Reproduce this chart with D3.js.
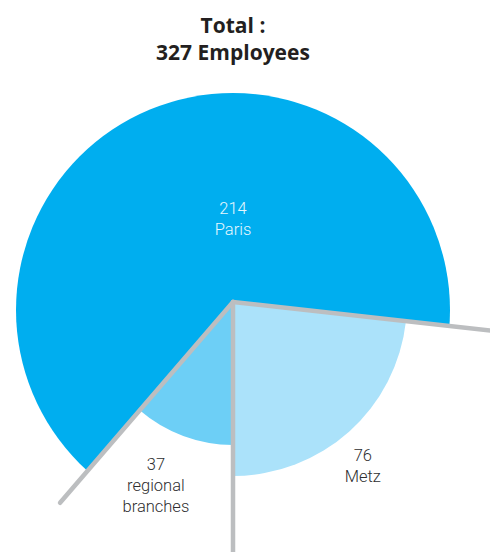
<!DOCTYPE html>
<html>
<head>
<meta charset="utf-8">
<script src="https://cdn.jsdelivr.net/npm/d3@7"></script>
<style>
  body { margin: 0; background: #fff; }
  svg { display: block; }
  .title { font-family: 'Open Sans', Roboto, sans-serif; font-weight: 700; font-size: 21px; fill: #231f20; }
  .label { font-family: Roboto, 'Open Sans', sans-serif; font-weight: 300; font-size: 16.5px; }
</style>
</head>
<body>
<svg class="chart"></svg>
<script>
// Employees by site
var sites = ['regional branches', 'Paris', 'Metz']
var employees = [37, 214, 76]
var siteLabels = [['37', 'regional', 'branches'], ['214', 'Paris'], ['76', 'Metz']]
var titleLines = ['Total :', '327 Employees']

var conf = {
  width: 490,
  height: 552,
  cx: 233,
  cy: 302,
  lineLength: 265,
  lineWidth: 4.5,
  lineColor: '#bcbec0',
  lineHeight: 21,
  parisShift: 8
}

// per-site look
var radius = { 'regional branches': 143, 'Paris': 217, 'Metz': 174 }
var colors = { 'regional branches': '#6dcff6', 'Paris': '#00aeef', 'Metz': '#abe2fa' }
var textColor = { 'regional branches': '#2e2e30', 'Paris': '#e6f7fe', 'Metz': '#2e2e30' }
var labelPos = {
  'regional branches': { angle: 202.8, r: 199 },
  'Paris': { angle: 0, r: 83 },
  'Metz': { angle: 141.6, r: 209 }
}

var svg = d3.select('.chart')
  .attr('width', conf.width)
  .attr('height', conf.height)

var data = sites.map(function (d, i) {
  return { name: d, value: employees[i], lines: siteLabels[i] }
})

// Slices start at the vertical line and go clockwise
var pie = d3.pie()
  .sort(null)
  .value(function (d) { return d.value })
  .startAngle(Math.PI)
  .endAngle(3 * Math.PI)

var arcs = pie(data)

var g = svg.append('g')
  .attr('transform', 'translate(' + conf.cx + ',' + conf.cy + ')')

// Paris outline sits a little lower than the wedge tip
g.append('clipPath')
  .attr('id', 'paris-clip')
  .append('circle')
  .attr('cx', 0)
  .attr('cy', conf.parisShift)
  .attr('r', radius['Paris'])

var arc = d3.arc().innerRadius(0)

// draw Paris first, smaller slices on top
var order = arcs.slice().sort(function (a, b) {
  return radius[b.data.name] - radius[a.data.name]
})

g.selectAll('path.slice')
  .data(order)
  .enter()
    .append('path')
    .attr('class', 'slice')
    .attr('fill', function (d) { return colors[d.data.name] })
    .attr('clip-path', function (d) {
      return d.data.name === 'Paris' ? 'url(#paris-clip)' : null
    })
    .attr('d', function (d) {
      var r = radius[d.data.name]
      if (d.data.name === 'Paris') r = r + conf.parisShift * 3
      return arc.outerRadius(r)(d)
    })

// Separator lines on each slice boundary
g.selectAll('line.sep')
  .data(arcs)
  .enter()
    .append('line')
    .attr('class', 'sep')
    .attr('x1', 0)
    .attr('y1', 0)
    .attr('x2', function (d) { return d3.pointRadial(d.startAngle, conf.lineLength)[0] })
    .attr('y2', function (d) { return d3.pointRadial(d.startAngle, conf.lineLength)[1] })
    .attr('stroke', conf.lineColor)
    .attr('stroke-width', conf.lineWidth)
    .attr('stroke-linecap', 'round')

// Labels
var labels = g.selectAll('text.label')
  .data(arcs)
  .enter()
    .append('text')
    .attr('class', 'label')
    .attr('text-anchor', 'middle')
    .attr('fill', function (d) { return textColor[d.data.name] })
    .attr('transform', function (d) {
      var p = labelPos[d.data.name]
      var xy = d3.pointRadial(p.angle * Math.PI / 180, p.r)
      return 'translate(' + xy[0] + ',' + xy[1] + ')'
    })

labels.selectAll('tspan')
  .data(function (d) { return d.data.lines })
  .enter()
    .append('tspan')
    .attr('x', 0)
    .attr('y', function (d, i, nodes) {
      return (i - (nodes.length - 1) / 2) * conf.lineHeight + 5.5
    })
    .text(function (d) { return d })

// Title
svg.append('text')
  .attr('class', 'title')
  .attr('text-anchor', 'middle')
  .selectAll('tspan')
  .data(titleLines)
  .enter()
    .append('tspan')
    .attr('x', conf.cx)
    .attr('y', function (d, i) { return 33 + i * 26.5 })
    .text(function (d) { return d })
</script>
</body>
</html>
